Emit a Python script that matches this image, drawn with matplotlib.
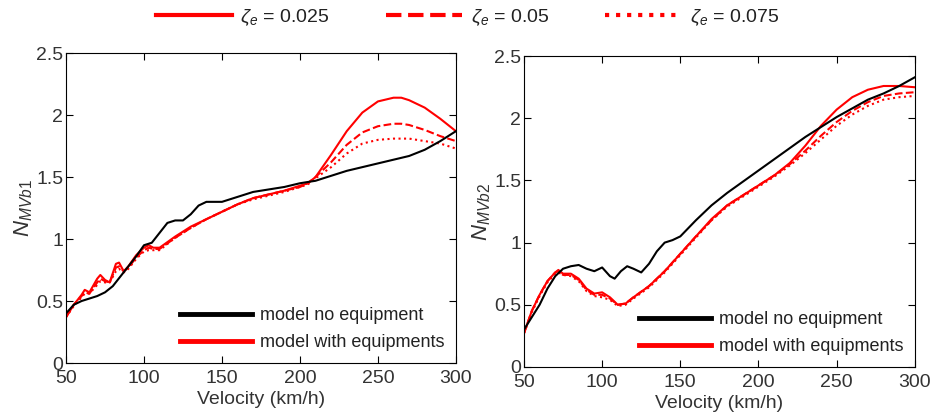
import matplotlib.pyplot as plt
import numpy as np

plt.rcParams['font.family'] = ['Liberation Sans', 'DejaVu Sans']
plt.rcParams['mathtext.fontset'] = 'custom'
plt.rcParams['mathtext.it'] = 'Liberation Sans:italic'
plt.rcParams['mathtext.rm'] = 'Liberation Sans'

# ---- left panel (N_MVb1) ----
v_b1_black = [50, 55, 60, 70, 75, 80, 85, 90, 95, 100, 105, 110, 115, 120, 125, 130, 135, 140,
              150, 160, 170, 180, 190, 200, 210, 220, 230, 240, 250, 260, 270, 280, 290, 300]
b1_black = [0.40, 0.47, 0.50, 0.54, 0.57, 0.62, 0.70, 0.78, 0.86, 0.95, 0.97, 1.05, 1.13, 1.15,
            1.15, 1.20, 1.27, 1.30, 1.30, 1.34, 1.38, 1.40, 1.42, 1.45, 1.47, 1.51, 1.55, 1.58,
            1.61, 1.64, 1.67, 1.72, 1.79, 1.87]

v_b1_red = [50, 55, 60, 62, 65, 70, 72, 75, 78, 82, 84, 87, 90, 95, 100, 103, 106, 110, 120, 130,
            140, 150, 160, 170, 180, 190, 200, 205, 210, 220, 230, 240, 250, 260, 265, 270, 280,
            290, 300]
b1_z025 = [0.37, 0.47, 0.55, 0.59, 0.57, 0.68, 0.71, 0.67, 0.65, 0.80, 0.81, 0.74, 0.78, 0.87,
           0.93, 0.95, 0.93, 0.93, 1.02, 1.10, 1.16, 1.22, 1.28, 1.33, 1.36, 1.39, 1.43, 1.45,
           1.50, 1.68, 1.87, 2.02, 2.11, 2.14, 2.14, 2.12, 2.06, 1.97, 1.87]
b1_z050 = [0.37, 0.47, 0.54, 0.57, 0.56, 0.65, 0.68, 0.66, 0.65, 0.77, 0.78, 0.74, 0.77, 0.85,
           0.91, 0.93, 0.92, 0.92, 1.01, 1.09, 1.16, 1.22, 1.28, 1.33, 1.36, 1.39, 1.42, 1.45,
           1.50, 1.62, 1.76, 1.86, 1.91, 1.93, 1.93, 1.92, 1.88, 1.83, 1.79]
b1_z075 = [0.37, 0.46, 0.53, 0.56, 0.56, 0.63, 0.66, 0.65, 0.65, 0.74, 0.76, 0.73, 0.76, 0.84,
           0.90, 0.91, 0.91, 0.91, 1.01, 1.09, 1.16, 1.22, 1.28, 1.32, 1.35, 1.38, 1.42, 1.44,
           1.49, 1.58, 1.69, 1.77, 1.80, 1.81, 1.81, 1.81, 1.79, 1.77, 1.73]

# ---- right panel (N_MVb2) ----
v_b2_black = [50, 55, 60, 65, 70, 75, 80, 85, 90, 95, 100, 105, 108, 112, 116, 120, 125, 130,
              135, 140, 145, 150, 160, 170, 180, 190, 200, 210, 220, 230, 240, 250, 260, 270,
              280, 290, 300]
b2_black = [0.30, 0.40, 0.50, 0.63, 0.73, 0.79, 0.81, 0.82, 0.79, 0.77, 0.80, 0.73, 0.71, 0.77,
            0.81, 0.79, 0.76, 0.83, 0.93, 1.00, 1.02, 1.05, 1.18, 1.30, 1.40, 1.49, 1.58, 1.67,
            1.76, 1.85, 1.93, 2.01, 2.08, 2.15, 2.20, 2.26, 2.33]

v_b2_red = [50, 55, 60, 65, 70, 72, 75, 80, 85, 90, 95, 100, 105, 110, 115, 120, 130, 140, 150,
            160, 170, 180, 190, 200, 210, 220, 230, 240, 250, 260, 270, 280, 290, 300]
b2_z025 = [0.27, 0.45, 0.58, 0.69, 0.76, 0.78, 0.75, 0.75, 0.71, 0.63, 0.59, 0.60, 0.56, 0.50,
           0.51, 0.56, 0.65, 0.77, 0.91, 1.05, 1.19, 1.30, 1.38, 1.46, 1.54, 1.64, 1.78, 1.94,
           2.07, 2.17, 2.23, 2.26, 2.26, 2.25]
b2_z050 = [0.27, 0.45, 0.58, 0.69, 0.76, 0.77, 0.74, 0.74, 0.70, 0.62, 0.58, 0.58, 0.55, 0.50,
           0.51, 0.56, 0.65, 0.77, 0.91, 1.05, 1.18, 1.30, 1.38, 1.46, 1.54, 1.63, 1.74, 1.86,
           1.97, 2.06, 2.13, 2.18, 2.20, 2.21]
b2_z075 = [0.27, 0.44, 0.57, 0.68, 0.75, 0.76, 0.74, 0.73, 0.69, 0.61, 0.57, 0.56, 0.54, 0.49,
           0.50, 0.55, 0.64, 0.76, 0.90, 1.04, 1.18, 1.29, 1.37, 1.45, 1.53, 1.62, 1.72, 1.83,
           1.94, 2.03, 2.10, 2.15, 2.17, 2.18]

zeta_labels = [r'$\zeta_e$ = 0.025', r'$\zeta_e$ = 0.05', r'$\zeta_e$ = 0.075']

FS = 14


def style_axes(ax, ylabel):
    ax.set_xlim(50, 300)
    ax.set_ylim(0, 2.5)
    ax.set_xticks([50, 100, 150, 200, 250, 300])
    ax.set_yticks([0, 0.5, 1, 1.5, 2, 2.5])
    ax.set_yticklabels(['0', '0.5', '1', '1.5', '2', '2.5'])
    ax.tick_params(direction='in', top=True, right=True, labelsize=FS, length=5, pad=2,
                   labelcolor='#333333')
    ax.tick_params(axis='x', pad=5)
    ax.set_xlabel('Velocity (km/h)', fontsize=FS, labelpad=3, color='#333333')
    ax.set_ylabel(ylabel, fontsize=16, labelpad=1, color='#333333')
    for s in ax.spines.values():
        s.set_linewidth(0.8)


fig = plt.figure(figsize=(9.35, 4.16), dpi=100)
ax1 = fig.add_axes([0.0706, 0.1274, 0.417, 0.745])
ax2 = fig.add_axes([0.5604, 0.118, 0.418, 0.747])

for ax, vb, yb, vr, z1, z2, z3, lab in [
        (ax1, v_b1_black, b1_black, v_b1_red, b1_z025, b1_z050, b1_z075, '$N_{MVb1}$'),
        (ax2, v_b2_black, b2_black, v_b2_red, b2_z025, b2_z050, b2_z075, '$N_{MVb2}$')]:
    ax.plot(vr, z3, color='red', lw=1.5, ls=':')
    ax.plot(vr, z2, color='red', lw=1.5, ls='--')
    ax.plot(vr, z1, color='red', lw=1.5, ls='-')
    ax.plot(vb, yb, color='black', lw=1.5)
    h_b, = ax.plot([], [], color='black', lw=3.5)
    h_r, = ax.plot([], [], color='red', lw=3.5)
    ax.legend([h_b, h_r], ['model no equipment', 'model with equipments'],
              loc='lower right', frameon=False, fontsize=13, handlelength=4.0,
              labelspacing=0.55, borderaxespad=0.25, handletextpad=0.4,
              labelcolor='#222222')
    style_axes(ax, lab)

h1, = ax1.plot([], [], color='red', lw=3, ls='-')
h2, = ax1.plot([], [], color='red', lw=3, ls='--')
h3, = ax1.plot([], [], color='red', lw=3, ls=':')
fig.legend([h1, h2, h3], zeta_labels, loc='upper center', bbox_to_anchor=(0.5, 1.025),
           ncol=3, frameon=False, fontsize=FS, handlelength=3.9, columnspacing=2.9,
           handletextpad=0.45, labelcolor='#222222')

fig.savefig('out.png', dpi=100)
